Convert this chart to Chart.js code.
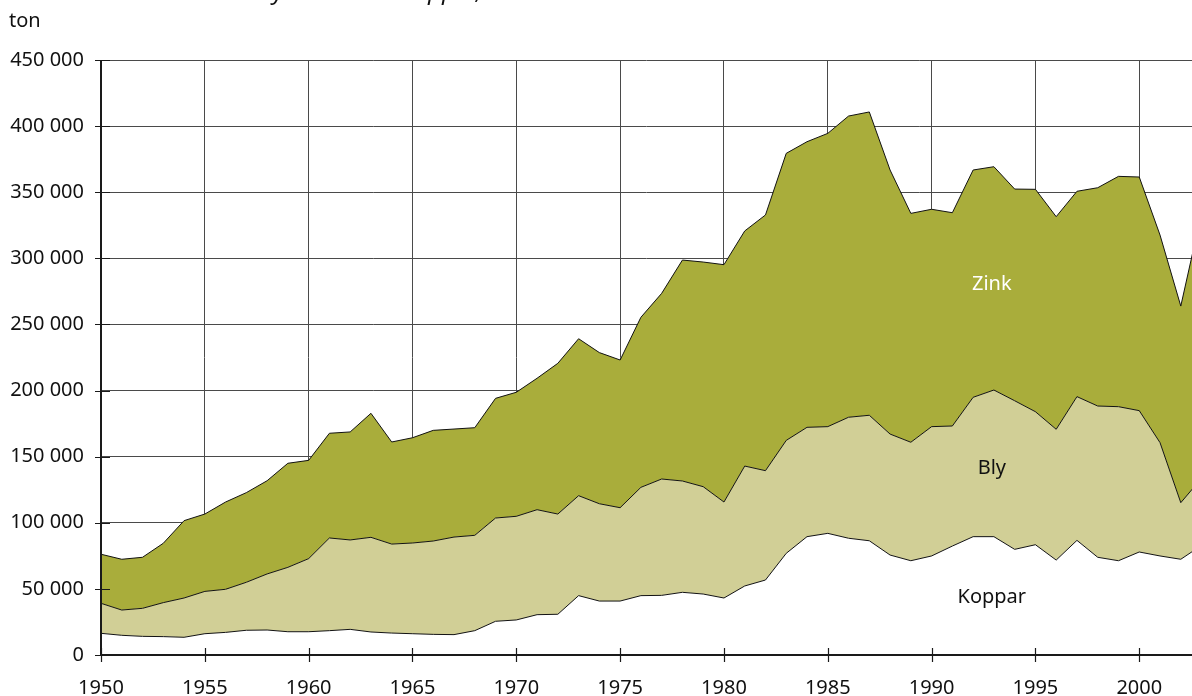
<!DOCTYPE html>
<html><head><meta charset="utf-8">
<script src="https://cdn.jsdelivr.net/npm/chart.js@4"></script>
<style>html,body{margin:0;padding:0;background:#fff;}canvas{display:block;}</style>
</head><body>
<canvas id="c" width="1192" height="696"></canvas>
<script>
const years = [1950,1951,1952,1953,1954,1955,1956,1957,1958,1959,1960,1961,1962,1963,1964,1965,1966,1967,1968,1969,1970,1971,1972,1973,1974,1975,1976,1977,1978,1979,1980,1981,1982,1983,1984,1985,1986,1987,1988,1989,1990,1991,1992,1993,1994,1995,1996,1997,1998,1999,2000,2001,2002,2003];
const koppar = [16400,14900,14100,13900,13400,16100,17100,18700,18900,17600,17600,18400,19400,17400,16600,16100,15600,15400,18400,25500,26500,30500,30800,44900,40800,40800,44900,45100,47400,46100,43100,52200,56700,76900,89500,92000,88300,86400,75600,71300,74900,82400,89500,89500,79900,83400,71800,86700,73900,71300,77900,74900,72400,82900];
const bly = [22700,19100,21200,25700,29700,32000,32600,36300,42400,48700,55300,70100,67600,71600,67300,68600,70600,73800,72100,78100,78400,79400,75800,75600,73600,70600,81900,88000,84200,81200,72600,90700,82700,85400,82700,80700,91500,94900,91500,89600,97800,90800,105400,110900,112400,100600,98900,108700,114400,116500,106900,85700,42800,50800];
const zink = [37100,38400,38600,44900,58500,58500,66000,67800,70500,78700,74300,79200,81700,93800,77200,79600,83700,81700,81400,90500,93800,99400,114000,118700,114300,111700,128600,140400,167100,169900,179500,177800,193400,217100,216000,221800,227800,229400,199700,173100,164400,161300,171900,168900,160100,168200,160800,155300,165100,174200,176700,157000,148700,200600];
const seriesNames = ['Koppar','Bly','Zink'];
const yTicks = [0,50000,100000,150000,200000,250000,300000,350000,400000,450000];
const xTicks = [1950,1955,1960,1965,1970,1975,1980,1985,1990,1995,2000];
const unitLabel = 'ton';
const titleParts = ['bly', 'koppar,'];

const FONT = '"Noto Sans", "Open Sans", sans-serif';
const fmt = v => String(v).replace(/\B(?=(\d{3})+(?!\d))/g, ' ');
const toPts = arr => arr.map((v, i) => ({x: years[i], y: v}));

const overlay = {
  id: 'overlay',
  afterDatasetsDraw(chart) {
    const ctx = chart.ctx, a = chart.chartArea;
    const xs = chart.scales.x, ys = chart.scales.y;
    ctx.save();
    ctx.strokeStyle = '#1a1a1a';
    ctx.lineWidth = 2;
    ctx.beginPath();
    ctx.moveTo(a.left, a.top); ctx.lineTo(a.left, a.bottom);
    ctx.moveTo(a.left, a.bottom); ctx.lineTo(a.right, a.bottom);
    ctx.stroke();
    ctx.lineWidth = 1.2;
    ctx.beginPath();
    xTicks.forEach(t => {
      const px = Math.round(xs.getPixelForValue(t)) + 0.5;
      ctx.moveTo(px, a.bottom - 7); ctx.lineTo(px, a.bottom + 7);
    });
    yTicks.forEach(t => {
      const py = Math.round(ys.getPixelForValue(t)) + 0.5;
      ctx.moveTo(a.left - 6, py); ctx.lineTo(a.left + 9, py);
    });
    ctx.stroke();
    // series labels
    ctx.font = '20px ' + FONT;
    ctx.textAlign = 'center';
    ctx.textBaseline = 'middle';
    const lx = xs.getPixelForValue(1992.9);
    ctx.fillStyle = '#ffffff';
    ctx.fillText(seriesNames[2], lx, ys.getPixelForValue(280600));
    ctx.fillStyle = '#111';
    ctx.fillText(seriesNames[1], lx, ys.getPixelForValue(141400));
    ctx.fillText(seriesNames[0], lx, ys.getPixelForValue(43600));
    // unit
    ctx.textAlign = 'left';
    ctx.textBaseline = 'alphabetic';
    ctx.fillStyle = '#111';
    ctx.fillText(unitLabel, 9, 27);
    // cropped title fragments (only their lower part is visible at the top edge)
    ctx.font = 'italic 24px ' + FONT;
    const w1 = ctx.measureText(titleParts[0]).width;
    ctx.fillText(titleParts[0], 284 - w1, -1);
    const wko = ctx.measureText('ko').width;
    ctx.fillText(titleParts[1], 428 - wko, -1);
    ctx.restore();
  }
};

new Chart(document.getElementById('c'), {
  type: 'line',
  data: {
    datasets: [
      {label: seriesNames[0], data: toPts(koppar), fill: 'origin', backgroundColor: '#ffffff'},
      {label: seriesNames[1], data: toPts(bly), fill: '-1', backgroundColor: '#d1cf96'},
      {label: seriesNames[2], data: toPts(zink), fill: '-1', backgroundColor: '#a9ad3b'}
    ].map(d => Object.assign(d, {borderColor: '#111', borderWidth: 1, pointRadius: 0, tension: 0}))
  },
  options: {
    responsive: false,
    animation: false,
    devicePixelRatio: 1,
    layout: {padding: {top: 60, right: 0, left: 0, bottom: 0}},
    plugins: {legend: {display: false}, tooltip: {enabled: false}, title: {display: false}},
    scales: {
      x: {
        type: 'linear', min: 1950, max: 2002.54,
        afterFit: s => { s.height = 41; },
        afterBuildTicks: s => { s.ticks = xTicks.map(v => ({value: v})); },
        grid: {color: '#4a4a4a', lineWidth: 1, tickLength: 0, drawTicks: false},
        border: {display: false},
        ticks: {includeBounds: false, padding: 21, color: '#111', font: {family: FONT, size: 20}, callback: v => String(v), maxRotation: 0, autoSkip: false}
      },
      y: {
        stacked: true, min: 0, max: 450000,
        afterFit: s => { s.width = 101; },
        afterBuildTicks: s => { s.ticks = yTicks.map(v => ({value: v})); },
        grid: {color: '#4a4a4a', lineWidth: 1, tickLength: 0, drawTicks: false},
        border: {display: false},
        ticks: {padding: 17, color: '#111', font: {family: FONT, size: 20}, callback: v => fmt(v)}
      }
    }
  },
  plugins: [overlay]
});
</script>
</body></html>
